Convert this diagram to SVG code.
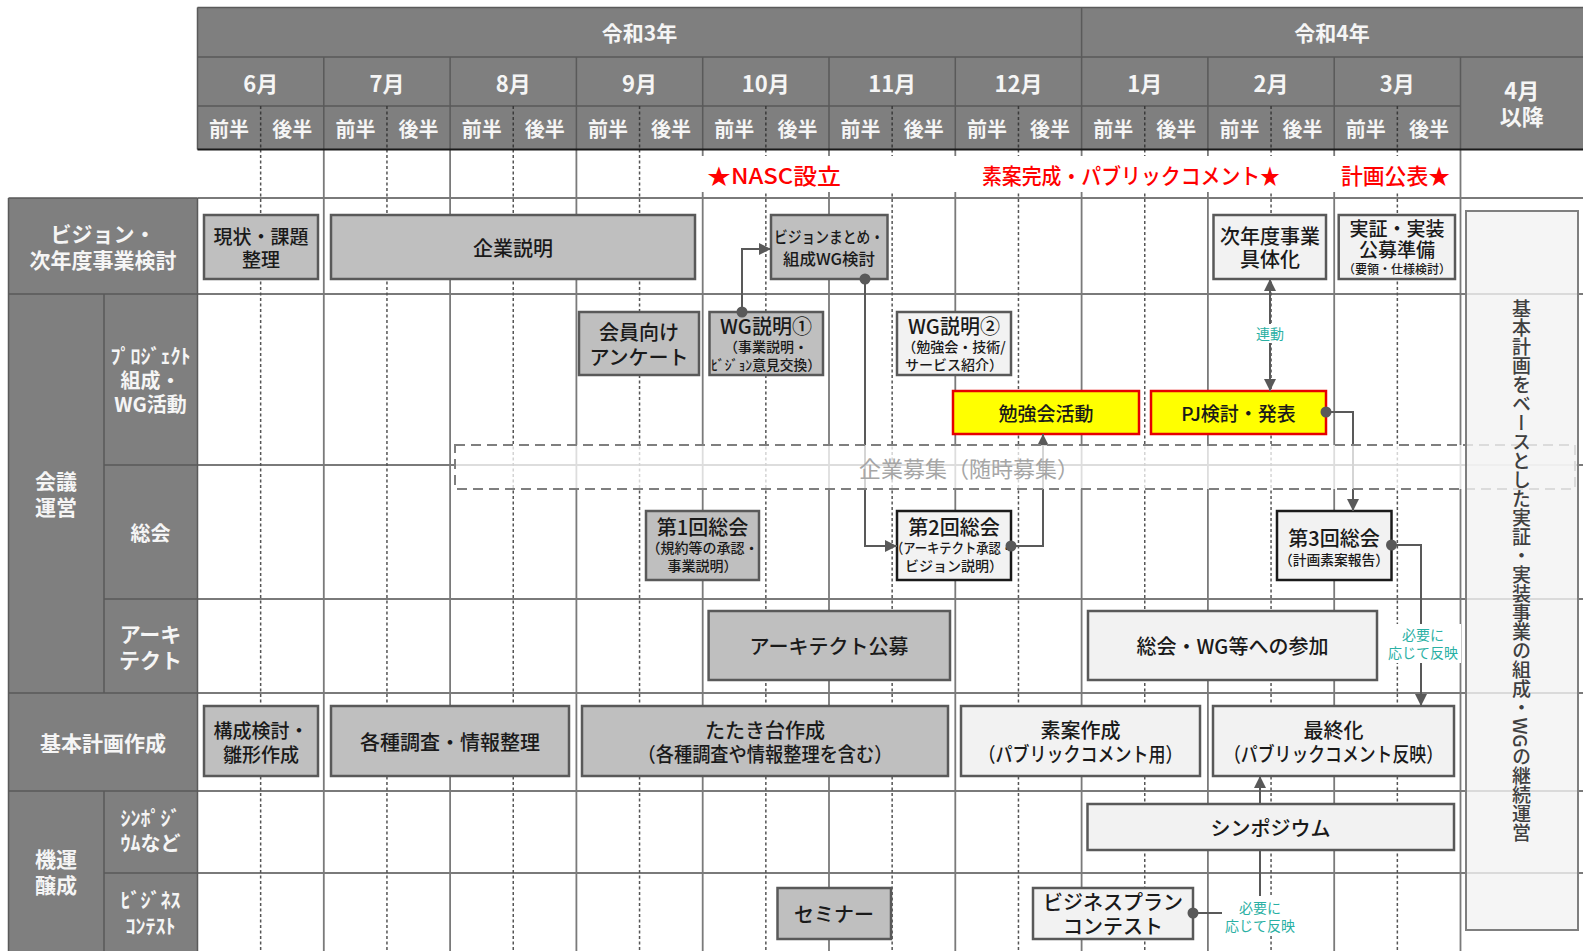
<svg xmlns="http://www.w3.org/2000/svg" width="1583" height="951" viewBox="0 0 1583 951">
<style>
text{font-family:"Noto Sans CJK JP","Noto Sans",sans-serif;text-anchor:middle;dominant-baseline:central}
.hd{fill:#f5f5f5;font-size:21px;font-weight:700}
.mo{fill:#f5f5f5;font-size:22px;font-weight:700}
.hf{fill:#f5f5f5;font-size:20px;font-weight:700}
.lb{fill:#f5f5f5;font-size:21px;font-weight:700}
.lbs{fill:#f5f5f5;font-size:20px;font-weight:700}
.star{fill:#ff0000;font-size:22px;font-weight:500}
.t{fill:#1a1a1a;font-size:20px;font-weight:500}
.t19{fill:#1a1a1a;font-size:19px;font-weight:500}
.s{fill:#1a1a1a;font-size:14px;font-weight:500}
.tl{fill:#2ab0a4;font-size:14px}
.g{fill:#bfbfbf;stroke:#595959;stroke-width:2.5}
.l{fill:#f2f2f2;stroke:#595959;stroke-width:2.5}
.k{fill:#f2f2f2;stroke:#1a1a1a;stroke-width:2.5}
.y{fill:#ffff00;stroke:#e60000;stroke-width:2.5}
.gl{stroke:#7a7a7a;stroke-width:1.8;fill:none}
.gd{stroke:#555;stroke-width:1.5;stroke-dasharray:3 2.5;fill:none}
.hl{stroke:#5a5a5a;stroke-width:1.5;fill:none}
.hdd{stroke:#3a3a3a;stroke-width:1.5;stroke-dasharray:3 2.5;fill:none}
.cn{stroke:#595959;stroke-width:2;fill:none}
</style>
<defs>
<marker id="arr" viewBox="0 0 10 10" refX="10" refY="5" markerWidth="12" markerHeight="12" markerUnits="userSpaceOnUse" orient="auto-start-reverse"><path d="M0,0 L10,5 L0,10 z" fill="#595959"/></marker>
<marker id="dot" viewBox="0 0 12 12" refX="6" refY="6" markerWidth="12" markerHeight="12" markerUnits="userSpaceOnUse"><circle cx="6" cy="6" r="5.5" fill="#595959"/></marker>
</defs>
<rect x="0" y="0" width="1583" height="951" fill="#ffffff"/>

<g id="grid">
<path class="gl" d="M197.5,198H1583M197.5,294H1583M197.5,465H1583M197.5,599H1583M197.5,693H1583M197.5,791H1583M197.5,873H1583"/>
<path class="gl" d="M323.8,149.5V951M450.1,149.5V951M576.4,149.5V951M702.7,149.5V951M829,149.5V951M955.3,149.5V951M1081.6,149.5V951M1207.9,149.5V951M1334.2,149.5V951M1460.5,149.5V951"/>
<path class="gd" d="M260.65,149.5V951M386.95,149.5V951M513.25,149.5V951M639.55,149.5V951M765.85,149.5V951M892.15,149.5V951M1018.45,149.5V951M1144.75,149.5V951M1271.05,149.5V951M1397.35,149.5V951"/>
</g>

<g id="header">
<rect x="197.5" y="7.5" width="1390" height="142" fill="#7f7f7f"/>
<path class="hl" d="M197.5,7.5H1583M197.5,57H1583M197.5,106H1460.5M197.5,7.5V149.5M1081.6,7.5V57"/>
<path class="hl" d="M323.8,57V149.5M450.1,57V149.5M576.4,57V149.5M702.7,57V149.5M829,57V149.5M955.3,57V149.5M1081.6,57V149.5M1207.9,57V149.5M1334.2,57V149.5M1460.5,57V149.5"/>
<path class="hdd" d="M260.65,106V149.5M386.95,106V149.5M513.25,106V149.5M639.55,106V149.5M765.85,106V149.5M892.15,106V149.5M1018.45,106V149.5M1144.75,106V149.5M1271.05,106V149.5M1397.35,106V149.5"/>
<path d="M197.5,149.5H1583" stroke="#1a1a1a" stroke-width="2.2"/>
<text class="hd" x="639.5" y="32">令和3年</text>
<text class="hd" x="1332" y="32">令和4年</text>
<text class="mo" x="260.65" y="81.5">6月</text>
<text class="mo" x="386.95" y="81.5">7月</text>
<text class="mo" x="513.25" y="81.5">8月</text>
<text class="mo" x="639.55" y="81.5">9月</text>
<text class="mo" x="765.85" y="81.5">10月</text>
<text class="mo" x="892.15" y="81.5">11月</text>
<text class="mo" x="1018.45" y="81.5">12月</text>
<text class="mo" x="1144.75" y="81.5">1月</text>
<text class="mo" x="1271.05" y="81.5">2月</text>
<text class="mo" x="1397.35" y="81.5">3月</text>
<text class="mo" x="1521.7" y="89">4月</text>
<text class="mo" x="1521.7" y="115">以降</text>
<text class="hf" x="229.1" y="128">前半</text><text class="hf" x="292.2" y="128">後半</text>
<text class="hf" x="355.4" y="128">前半</text><text class="hf" x="418.5" y="128">後半</text>
<text class="hf" x="481.7" y="128">前半</text><text class="hf" x="544.8" y="128">後半</text>
<text class="hf" x="608" y="128">前半</text><text class="hf" x="671.1" y="128">後半</text>
<text class="hf" x="734.3" y="128">前半</text><text class="hf" x="797.4" y="128">後半</text>
<text class="hf" x="860.6" y="128">前半</text><text class="hf" x="923.7" y="128">後半</text>
<text class="hf" x="986.9" y="128">前半</text><text class="hf" x="1050" y="128">後半</text>
<text class="hf" x="1113.2" y="128">前半</text><text class="hf" x="1176.3" y="128">後半</text>
<text class="hf" x="1239.5" y="128">前半</text><text class="hf" x="1302.6" y="128">後半</text>
<text class="hf" x="1365.8" y="128">前半</text><text class="hf" x="1428.9" y="128">後半</text>
</g>

<g id="row-labels">
<rect x="8.5" y="198" width="189" height="760" fill="#7f7f7f"/>
<path class="hl" d="M8.5,198H197.5M8.5,294H197.5M104,465H197.5M104,599H197.5M8.5,693H197.5M8.5,791H197.5M104,873H197.5M104,294V693M104,791V951M8.5,198V951M197.5,198V951"/>
<text class="lb" x="103" y="233">ビジョン・</text>
<text class="lb" x="103" y="259">次年度事業検討</text>
<text class="lb" x="56" y="480">会議</text>
<text class="lb" x="56" y="506">運営</text>
<text class="lbs" x="150.5" y="355">ﾌﾟﾛｼﾞｪｸﾄ</text>
<text class="lbs" x="150.5" y="379">組成・</text>
<text class="lbs" x="150.5" y="403">WG活動</text>
<text class="lbs" x="150.5" y="532">総会</text>
<text class="lb" x="150.5" y="633">アーキ</text>
<text class="lb" x="150.5" y="659">テクト</text>
<text class="lb" x="103" y="742">基本計画作成</text>
<text class="lb" x="56" y="858">機運</text>
<text class="lb" x="56" y="884">醸成</text>
<text class="lbs" x="150.5" y="817">ｼﾝﾎﾟｼﾞ</text>
<text class="lbs" x="150.5" y="842">ｳﾑなど</text>
<text class="lbs" x="150.5" y="899">ﾋﾞｼﾞﾈｽ</text>
<text class="lbs" x="150.5" y="925">ｺﾝﾃｽﾄ</text>
</g>

<g id="milestones">
<rect x="699" y="156" width="758" height="36" fill="#ffffff"/>
<text class="star" x="774" y="173.5" textLength="134" lengthAdjust="spacingAndGlyphs">★NASC設立</text>
<text class="star" x="1131" y="173.5" textLength="298" lengthAdjust="spacingAndGlyphs">素案完成・パブリックコメント★</text>
<text class="star" x="1395.5" y="173.5" textLength="109" lengthAdjust="spacingAndGlyphs">計画公表★</text>
</g>

<g id="node-genjo"><rect class="g" x="204" y="215" width="114" height="64"/><text class="t19" x="261" y="235">現状・課題</text><text class="t19" x="261" y="258">整理</text></g>
<g id="node-kigyo-setsumei"><rect class="g" x="331" y="215" width="364" height="64"/><text class="t" x="513" y="247">企業説明</text></g>
<g id="node-vision-matome"><rect class="g" x="771" y="215" width="116.5" height="64"/><text class="t" style="font-size:16px" x="829" y="236" textLength="110" lengthAdjust="spacingAndGlyphs">ビジョンまとめ・</text><text class="t" style="font-size:16px" x="829" y="258" textLength="92" lengthAdjust="spacingAndGlyphs">組成WG検討</text></g>
<g id="node-jinendo"><rect class="l" x="1213.5" y="215" width="112.5" height="64"/><text class="t" x="1270" y="235">次年度事業</text><text class="t" x="1270" y="258">具体化</text></g>
<g id="node-jissho"><rect class="l" x="1338.7" y="215" width="116.3" height="64"/><text class="t19" x="1397" y="227">実証・実装</text><text class="t19" x="1397" y="248.5">公募準備</text><text class="s" style="font-size:12px" x="1397" y="268.5">（要領・仕様検討）</text></g>

<g id="node-anketo"><rect class="g" x="579" y="312" width="120" height="63"/><text class="t" x="639" y="331">会員向け</text><text class="t" x="639" y="356">アンケート</text></g>
<g id="node-wg1"><rect class="g" x="709.5" y="312" width="113.5" height="63"/><text class="t" x="766" y="325">WG説明①</text><text class="s" x="766" y="346">（事業説明・</text><text class="s" x="766" y="364" textLength="110" lengthAdjust="spacingAndGlyphs">ﾋﾞｼﾞｮﾝ意見交換）</text></g>
<g id="node-wg2"><rect class="l" x="897" y="312" width="114" height="63"/><text class="t" x="954" y="325">WG説明②</text><text class="s" x="954" y="346">（勉強会・技術/</text><text class="s" x="954" y="364">サービス紹介）</text></g>
<g id="node-benkyokai"><rect class="y" x="953" y="391" width="186" height="43"/><text class="t19" x="1046" y="412.5">勉強会活動</text></g>
<g id="node-pj"><rect class="y" x="1151" y="391" width="175" height="43"/><text class="t19" x="1238.5" y="412.5">PJ検討・発表</text></g>

<g id="node-soukai1"><rect class="g" x="646" y="511" width="113" height="69"/><text class="t" x="702.5" y="526">第1回総会</text><text class="s" x="702.5" y="547">（規約等の承認・</text><text class="s" x="702.5" y="565">事業説明）</text></g>
<g id="node-soukai2"><rect class="k" x="897" y="511" width="114" height="69"/><text class="t" x="954" y="526">第2回総会</text><text class="s" x="952" y="547" textLength="122" lengthAdjust="spacingAndGlyphs">（アーキテクト承認・</text><text class="s" x="954" y="565">ビジョン説明）</text></g>
<g id="node-soukai3"><rect class="k" x="1277" y="511" width="114.5" height="69"/><text class="t" x="1334" y="537">第3回総会</text><text class="s" x="1334" y="559" textLength="110" lengthAdjust="spacingAndGlyphs">（計画素案報告）</text></g>

<g id="node-arch-kobo"><rect class="g" x="708.6" y="611" width="241.4" height="69"/><text class="t" x="829" y="645.5">アーキテクト公募</text></g>
<g id="node-sanka"><rect class="l" x="1088" y="611" width="289" height="69"/><text class="t" x="1232.5" y="645.5">総会・WG等への参加</text></g>

<g id="node-kosei"><rect class="g" x="204" y="706" width="114" height="70"/><text class="t19" x="261" y="729">構成検討・</text><text class="t19" x="261" y="753">雛形作成</text></g>
<g id="node-chosa"><rect class="g" x="331" y="706" width="238" height="70"/><text class="t" x="450" y="741">各種調査・情報整理</text></g>
<g id="node-tatakidai"><rect class="g" x="582" y="706" width="366" height="70"/><text class="t" x="765" y="729">たたき台作成</text><text class="t" x="765" y="753" textLength="255" lengthAdjust="spacingAndGlyphs">（各種調査や情報整理を含む）</text></g>
<g id="node-soan"><rect class="l" x="961" y="706" width="239" height="70"/><text class="t" x="1080.5" y="729">素案作成</text><text class="t" x="1080.5" y="753" textLength="204" lengthAdjust="spacingAndGlyphs">（パブリックコメント用）</text></g>
<g id="node-saishu"><rect class="l" x="1213" y="706" width="241" height="70"/><text class="t" x="1333.5" y="729">最終化</text><text class="t" x="1333.5" y="753" textLength="219" lengthAdjust="spacingAndGlyphs">（パブリックコメント反映）</text></g>

<g id="node-symposium"><rect class="l" x="1087.5" y="804" width="366.5" height="46"/><text class="t" x="1270.5" y="827">シンポジウム</text></g>
<g id="node-seminar"><rect class="g" x="777.5" y="888" width="113.5" height="51"/><text class="t" x="834" y="913.5">セミナー</text></g>
<g id="node-bizplan"><rect class="l" x="1033" y="888" width="160" height="51"/><text class="t" x="1113" y="901">ビジネスプラン</text><text class="t" x="1113" y="925">コンテスト</text></g>

<g id="connectors">
<path class="cn" d="M742,312V249H771" marker-start="url(#dot)" marker-end="url(#arr)"/>
<path class="cn" d="M865,279V546H897" marker-start="url(#dot)" marker-end="url(#arr)"/>
<path class="cn" d="M1011,546H1043V434" marker-start="url(#dot)" marker-end="url(#arr)"/>
<path class="cn" d="M1270,279V391" marker-start="url(#arr)" marker-end="url(#arr)"/>
<path class="cn" d="M1326,412H1353V511" marker-start="url(#dot)" marker-end="url(#arr)"/>
<path class="cn" d="M1391.5,545H1421V706" marker-start="url(#dot)" marker-end="url(#arr)"/>
<path class="cn" d="M1193,913H1260V850M1260,804V776" marker-start="url(#dot)" marker-end="url(#arr)"/>
<g id="connector-labels">
<rect x="1252" y="324" width="36" height="19" fill="#ffffff"/>
<text class="tl" x="1270" y="333">連動</text>
<rect x="1385" y="624" width="76" height="39" fill="#ffffff"/>
<text class="tl" x="1423" y="634">必要に</text>
<text class="tl" x="1423" y="652">応じて反映</text>
<rect x="1222" y="896" width="76" height="39" fill="#ffffff"/>
<text class="tl" x="1260" y="907">必要に</text>
<text class="tl" x="1260" y="925">応じて反映</text>
</g>
</g>

<g id="node-kigyo-boshu">
<rect x="455" y="445" width="1120" height="44" fill="#ffffff" fill-opacity="0.75" stroke="#7f7f7f" stroke-width="2" stroke-dasharray="10 6"/>
<text x="969" y="467" style="font-size:22px;fill:#a6a6a6">企業募集（随時募集）</text>
</g>

<g id="node-future">
<rect x="1466" y="211" width="112" height="719" fill="#f2f2f2" fill-opacity="0.8" stroke="#7f7f7f" stroke-width="2"/>
<text x="1521.5" y="571" style="writing-mode:vertical-rl;font-size:19px;fill:#404040;font-weight:500">基本計画をベースとした実証・実装事業の組成・WGの継続運営</text>
</g>
</svg>
